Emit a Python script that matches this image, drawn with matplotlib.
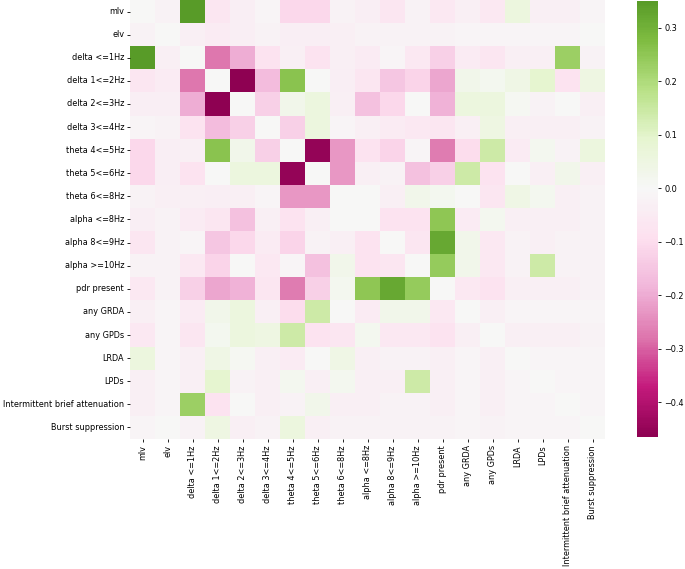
import matplotlib
matplotlib.use('Agg')
import matplotlib.pyplot as plt
import numpy as np
import pandas as pd
import seaborn as sns

labels = ['mlv', 'elv', 'delta <=1Hz', 'delta 1<=2Hz', 'delta 2<=3Hz',
          'delta 3<=4Hz', 'theta 4<=5Hz', 'theta 5<=6Hz', 'theta 6<=8Hz',
          'alpha <=8Hz', 'alpha 8<=9Hz', 'alpha >=10Hz', 'pdr present',
          'any GRDA', 'any GPDs', 'LRDA', 'LPDs',
          'Intermittent brief attenuation', 'Burst suppression']

# upper triangle, row i holds the values for columns i+1 .. end
r_mlv = [-0.02, 0.35, -0.07, -0.04, -0.01, -0.11, -0.11, -0.02, -0.04, -0.07,
         -0.02, -0.06, -0.03, -0.06, 0.06, -0.03, -0.03, -0.01]
r_elv = [-0.03, -0.05, -0.04, -0.02, -0.04, -0.04, -0.03, -0.02, -0.02,
         -0.02, -0.02, -0.01, -0.01, -0.01, -0.01, -0.01, 0.0]
r_d1 = [-0.28, -0.20, -0.08, -0.03, -0.08, -0.03, -0.05, -0.01, -0.06,
        -0.13, -0.05, -0.07, -0.03, -0.03, 0.23, -0.02]
r_d2 = [-0.465, -0.17, 0.26, 0.0, -0.04, -0.07, -0.15, -0.12, -0.21,
        0.03, 0.02, 0.04, 0.09, -0.08, 0.05]
r_d3 = [-0.13, 0.03, 0.06, -0.03, -0.16, -0.11, 0.0, -0.19, 0.06, 0.06,
        0.01, -0.02, 0.0, -0.03]
r_d4 = [-0.13, 0.06, -0.01, -0.03, -0.05, -0.06, -0.07, -0.03, 0.05,
        -0.03, -0.03, -0.03, -0.02]
r_t5 = [-0.45, -0.23, -0.08, -0.12, -0.01, -0.27, -0.10, 0.14, -0.05,
        0.02, -0.02, 0.06]
r_t6 = [-0.23, -0.03, -0.02, -0.16, -0.13, 0.14, -0.08, 0.0, -0.03,
        0.03, -0.03]
r_t8 = [0.0, -0.03, 0.03, 0.02, 0.0, -0.07, 0.04, 0.02, -0.03, -0.02]
r_a8 = [-0.08, -0.08, 0.25, -0.05, 0.02, -0.03, -0.03, -0.03, -0.02]
r_a9 = [-0.07, 0.32, 0.03, -0.06, -0.02, -0.03, -0.02, -0.02]
r_a10 = [0.24, 0.03, -0.06, -0.02, 0.14, -0.02, -0.02]
r_pdr = [-0.06, -0.08, -0.03, -0.03, -0.03, -0.02]
r_grda = [-0.03, -0.01, -0.01, -0.01, -0.01]
r_gpd = [-0.03, -0.03, -0.03, -0.02]
r_lrda = [-0.01, -0.01, -0.01]
r_lpd = [-0.01, -0.01]
r_iba = [-0.01]

upper = [r_mlv, r_elv, r_d1, r_d2, r_d3, r_d4, r_t5, r_t6, r_t8,
         r_a8, r_a9, r_a10, r_pdr, r_grda, r_gpd, r_lrda, r_lpd, r_iba]

n = len(labels)
mat = np.zeros((n, n))
for i, row in enumerate(upper):
    mat[i, i + 1:] = row
mat = mat + mat.T

df = pd.DataFrame(mat, index=labels, columns=labels)

fig = plt.figure(figsize=(6.85, 5.69), dpi=100)
ax = fig.add_axes([0.1905, 0.2285, 0.6934, 0.7715])
cax = fig.add_axes([0.930, 0.232, 0.031, 0.766])

sns.heatmap(df, cmap='PiYG', center=0, ax=ax, cbar_ax=cax)

ax.set_xticks(np.arange(n) + 0.5)
ax.set_xticklabels(labels, rotation=90, fontsize=5.9)
ax.set_yticks(np.arange(n) + 0.5)
ax.set_yticklabels(labels, rotation=0, fontsize=5.9)
ax.tick_params(length=2.5, width=0.6, pad=2)
cax.tick_params(labelsize=5.9, length=2.5, width=0.6, pad=2)

fig.savefig('out.png', dpi=100)
